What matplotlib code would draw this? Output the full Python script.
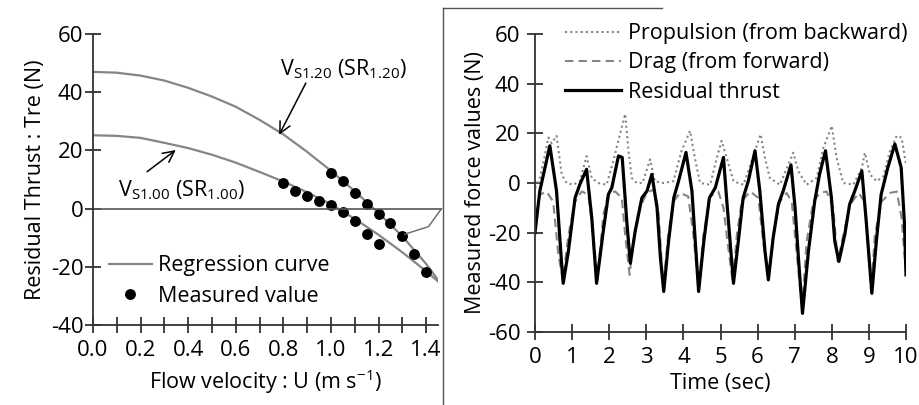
import matplotlib
matplotlib.use("Agg")
import matplotlib.pyplot as plt
from matplotlib.lines import Line2D
from matplotlib.ticker import MultipleLocator, FormatStrFormatter

plt.rcParams['font.family'] = ['Open Sans', 'DejaVu Sans']
plt.rcParams['axes.unicode_minus'] = False
plt.rcParams['font.size'] = 15.5

# ---- left panel data: residual thrust vs flow velocity ----
curve_u = [0.0, 0.1, 0.2, 0.3, 0.4, 0.5, 0.6, 0.7, 0.8, 0.9, 1.0, 1.1, 1.2, 1.3, 1.4, 1.45]
curve_sr120 = [47.0, 46.7, 45.7, 44.0, 41.5, 38.5, 35.0, 30.5, 25.5, 19.5, 13.0, 6.0, -1.5, -9.5, -19.0, -24.5]
curve_sr100 = [25.2, 25.0, 24.3, 22.6, 20.8, 18.5, 15.8, 12.6, 9.3, 5.6, 1.5, -3.5, -9.0, -15.0, -21.5, -25.0]

meas_u_100 = [0.80, 0.85, 0.90, 0.95, 1.00, 1.05, 1.10, 1.15, 1.20, 1.40]
meas_t_100 = [8.9, 6.2, 4.5, 2.5, 1.4, -1.3, -4.4, -8.7, -12.0, -21.9]
meas_u_120 = [1.00, 1.05, 1.10, 1.15, 1.20, 1.25, 1.30, 1.35]
meas_t_120 = [12.4, 9.6, 5.5, 1.7, -1.7, -4.9, -9.3, -15.6]

leader_u = [1.31, 1.41, 1.465]
leader_t = [-8.8, -6.2, 0.0]

# ---- right panel data: measured force over time ----
prop_t = [0, 0.13, 0.25, 0.36, 0.45, 0.58, 0.72, 0.85, 1.03, 1.21, 1.39, 1.53, 1.71, 1.93,
          2.11, 2.29, 2.43, 2.52, 2.61, 2.74, 2.90, 3.10, 3.23, 3.46, 3.73, 3.95, 4.18, 4.31,
          4.45, 4.72, 4.90, 5.03, 5.17, 5.35, 5.62, 5.84, 6.08, 6.20, 6.33, 6.60, 6.83, 6.96,
          7.10, 7.32, 7.59, 7.77, 8.00, 8.13, 8.31, 8.58, 8.81, 8.89, 9.03, 9.21, 9.39, 9.57,
          9.75, 9.88, 10.0]
prop_f = [-2, 2, 10, 18.3, 16, 19, 3.4, 0, -0.7, 0.7, 10.8, 2, 0, -0.7,
          8.8, 19.6, 27.8, 12.9, 2, 0, 0, 9.5, 0.7, 0, 0.7, 12.9, 21, 10,
          0, -0.7, 10, 17, 10, 0.7, -0.7, 8.8, 19.6, 10, 2, -0.7, 7.5, 12.2,
          4.7, -0.7, 2, 14, 23, 10, 0, -0.7, 6, 12.2, 3.4, 0.7, 2.7, 12.9,
          19, 18.3, 7.5]

drag_t = [0, 0.13, 0.31, 0.49, 0.63, 0.75, 0.90, 1.08, 1.26, 1.44, 1.57, 1.68, 1.84, 1.98,
          2.16, 2.34, 2.43, 2.55, 2.65, 2.83, 3.01, 3.19, 3.32, 3.46, 3.59, 3.73, 3.91, 4.13,
          4.27, 4.41, 4.54, 4.72, 4.94, 5.08, 5.20, 5.33, 5.44, 5.57, 5.80, 6.02, 6.15, 6.29,
          6.42, 6.60, 6.78, 6.92, 7.05, 7.20, 7.32, 7.50, 7.68, 7.86, 8.04, 8.16, 8.31, 8.49,
          8.72, 8.89, 9.06, 9.16, 9.34, 9.57, 9.75, 9.88, 9.99]
drag_f = [-17, -4.7, -3.4, -7.5, -29, -39, -21, -7.5, -3.4, -4.7, -21, -39, -13, -4,
          -3.4, -6, -21, -37, -23.7, -10, -4, -2.7, -10, -42, -21, -7.5, -4, -5.4,
          -21, -43, -21, -5.4, -3.4, -10, -25, -40, -21, -7.5, -3.4, -6, -23.7, -38.5,
          -21, -7.5, -4, -7.5, -27.8, -51, -23.7, -7.5, -4, -3.4, -10, -31.5, -21, -8.8,
          -4, -7.5, -44, -21, -7.5, -4, -3.4, -14, -34.5]

resid_t = [0, 0.13, 0.27, 0.40, 0.58, 0.72, 0.76, 0.90, 1.08, 1.21, 1.39, 1.53, 1.66, 1.84,
           1.98, 2.07, 2.25, 2.35, 2.48, 2.57, 2.70, 2.88, 3.02, 3.15, 3.29, 3.38, 3.47, 3.60,
           3.74, 3.87, 4.07, 4.23, 4.32, 4.41, 4.55, 4.70, 4.86, 5.08, 5.17, 5.35, 5.48, 5.61,
           5.75, 5.93, 6.06, 6.20, 6.29, 6.42, 6.56, 6.69, 6.90, 7.01, 7.10, 7.21, 7.37, 7.54,
           7.67, 7.83, 7.99, 8.08, 8.19, 8.35, 8.48, 8.62, 8.81, 8.92, 9.08, 9.20, 9.33, 9.51,
           9.70, 9.87, 9.96, 10.0]
resid_f = [-20, -3.2, 6.2, 15, -3.2, -33, -40.4, -27.5, -6, -0.5, 5.5, -14, -40.4, -19.4,
           -4.5, -1.9, 10.9, 10.3, -16.7, -32.3, -19.4, -6, -3.2, 3.5, -10, -30, -43.7, -23.5,
           -6, 0.8, 12.3, -3.2, -23.5, -43.7, -23.5, -6, -1.9, 10.3, -7.3, -40.4, -23.5, -6,
           0.8, 13, -3.2, -27.5, -39, -22, -8.6, -3.2, 7.3, -10, -30, -52.5, -27.5, -7.3,
           3.5, 13, -6, -23.5, -31.6, -20.8, -8.6, -3.2, 4.9, -14, -44.4, -23.5, -4.6, 6.2,
           15.7, 6.2, -16.7, -37]

spine_col = '#333333'
gray = '#858585'
fs = 15.5

fig = plt.figure(figsize=(9.19, 4.05), dpi=100)
ax1 = fig.add_axes([93 / 919, 80 / 405, 345 / 919, 291 / 405])
ax2 = fig.add_axes([535 / 919, 73 / 405, 371 / 919, 298 / 405])

def style_axes(ax, ypad):
    for s in ['top', 'right']:
        ax.spines[s].set_visible(False)
    for s in ['left', 'bottom']:
        ax.spines[s].set_color(spine_col)
        ax.spines[s].set_linewidth(1.3)
    ax.tick_params(which='both', direction='inout', length=12, width=1.3,
                   color=spine_col, labelsize=16)
    ax.tick_params(axis='x', which='both', pad=4.5)
    ax.tick_params(axis='y', which='both', pad=ypad)

# ---- left panel ----
style_axes(ax1, 1)
ax1.plot(curve_u, curve_sr120, color=gray, lw=1.6, label='Regression curve')
ax1.plot(curve_u, curve_sr100, color=gray, lw=1.6)
ax1.plot(meas_u_100, meas_t_100, 'o', color='black', ms=6.8, label='Measured value')
ax1.plot(meas_u_120, meas_t_120, 'o', color='black', ms=6.8)
ax1.axhline(0, xmin=0, xmax=1.01, color='#555555', lw=1.2, clip_on=False)
ax1.plot(leader_u, leader_t, color='#666666', lw=1.0, clip_on=False)

ax1.set_xlim(0, 1.45)
ax1.set_ylim(-40, 60)
ax1.xaxis.set_major_locator(MultipleLocator(0.2))
ax1.xaxis.set_minor_locator(MultipleLocator(0.1))
ax1.xaxis.set_major_formatter(FormatStrFormatter('%.1f'))
ax1.yaxis.set_major_locator(MultipleLocator(20))
ax1.set_xlabel(r'Flow velocity : U (m s$^{\mathregular{-1}}$)', fontsize=fs, labelpad=5)
ax1.set_ylabel('Residual Thrust : Tre (N)', fontsize=fs, labelpad=3)

ax1.text(0.785, 48, r'V$_{\mathregular{S1.20}}$ (SR$_{\mathregular{1.20}}$)', fontsize=fs,
         ha='left', va='center')
ax1.annotate('', xy=(0.777, 24.5), xytext=(0.90, 44.0),
             arrowprops=dict(arrowstyle='->', color='black', lw=1.1, mutation_scale=20))
ax1.text(0.105, 6.2, r'V$_{\mathregular{S1.00}}$ (SR$_{\mathregular{1.00}}$)', fontsize=fs,
         ha='left', va='center')
ax1.annotate('', xy=(0.357, 20.7), xytext=(0.218, 12.1),
             arrowprops=dict(arrowstyle='->', color='black', lw=1.1, mutation_scale=20))

ax1.legend(loc='upper left', bbox_to_anchor=(0.02, 0.27), frameon=False, fontsize=fs,
           handlelength=2.0, handletextpad=0.3, labelspacing=0.45, borderaxespad=0)

# ---- right panel ----
style_axes(ax2, 4.5)
ax2.plot(prop_t, prop_f, color=gray, lw=1.5, ls=(0, (1, 1.5)),
         label='Propulsion (from backward)')
ax2.plot(drag_t, drag_f, color=gray, lw=1.5, ls=(0, (4, 2.5)), label='Drag (from forward)')
ax2.plot(resid_t, resid_f, color='black', lw=2.3, label='Residual thrust')
ax2.set_xlim(0, 10)
ax2.set_ylim(-60, 60)
ax2.xaxis.set_major_locator(MultipleLocator(1))
ax2.yaxis.set_major_locator(MultipleLocator(20))
ax2.set_xlabel('Time (sec)', fontsize=fs, labelpad=4)
ax2.set_ylabel('Measured force values (N)', fontsize=fs, labelpad=1)
ax2.legend(loc='upper left', bbox_to_anchor=(0.058, 1.065), frameon=False, fontsize=fs,
           handlelength=2.6, handletextpad=0.3, labelspacing=0.38, borderaxespad=0)

# frame around the right panel
fig.add_artist(Line2D([443 / 919, 443 / 919], [0, 397 / 405], color='#555555', lw=1.0))
fig.add_artist(Line2D([443 / 919, 662 / 919], [397 / 405, 397 / 405], color='#555555', lw=1.0))

fig.savefig('out.png', dpi=100)
